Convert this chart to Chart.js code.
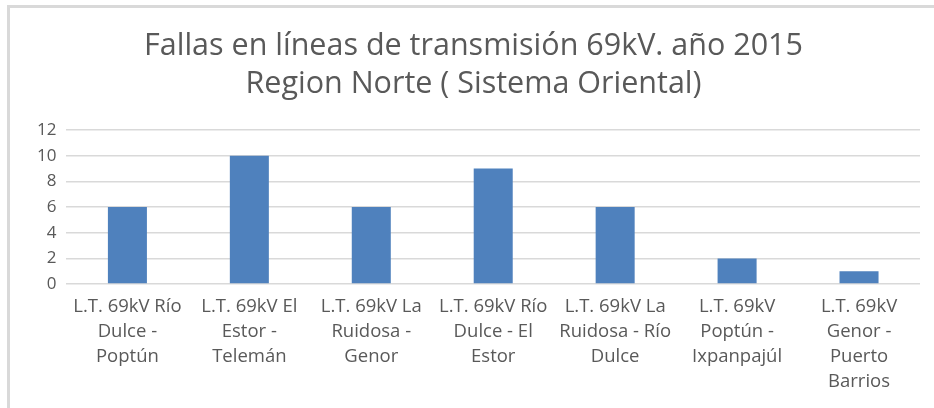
<!DOCTYPE html>
<html>
<head>
<meta charset="utf-8">
<script src="https://cdn.jsdelivr.net/npm/chart.js@4/dist/chart.umd.min.js"></script>
<style>
  html, body { margin: 0; padding: 0; background: #fff; }
  #wrap { position: relative; width: 934px; height: 408px; }
  #frame { position: absolute; left: 7px; top: 5px; right: 0; bottom: 0;
           border-left: 3px solid #d9d9d9; border-top: 3px solid #d9d9d9; }
  canvas { position: absolute; left: 0; top: 0; }
</style>
</head>
<body>
<div id="wrap">
  <div id="frame"></div>
  <canvas id="barchart" width="934" height="408"></canvas>
</div>
<script>
const chart_title = ["Fallas en líneas de transmisión 69kV. año 2015", "Region Norte ( Sistema Oriental)"]

const line_names = [
    ["L.T. 69kV Río", "Dulce -", "Poptún"],
    ["L.T. 69kV El", "Estor -", "Telemán"],
    ["L.T. 69kV La", "Ruidosa -", "Genor"],
    ["L.T. 69kV Río", "Dulce - El", "Estor"],
    ["L.T. 69kV La", "Ruidosa - Río", "Dulce"],
    ["L.T. 69kV", "Poptún -", "Ixpanpajúl"],
    ["L.T. 69kV", "Genor -", "Puerto", "Barrios"]
]

const fallas = [6, 10, 6, 9, 6, 2, 1]

const y_min = 0
const y_max = 12
const y_step = 2

const grey_text = '#595959'

new Chart(
    document.getElementById('barchart'),
    {
        type: 'bar',
        data: {
            labels: line_names,
            datasets: [
                {
                    label: 'Fallas',
                    data: fallas,
                    backgroundColor: '#4f81bd',
                    categoryPercentage: 1,
                    barPercentage: 0.32
                }
            ]
        },
        options: {
            responsive: false,
            animation: false,
            layout: {
                padding: { left: 27, right: 14, top: 0, bottom: 12 }
            },
            plugins: {
                legend: { display: false },
                tooltip: { enabled: false },
                title: {
                    display: true,
                    text: chart_title,
                    color: grey_text,
                    font: { family: 'Open Sans', size: 30.5, weight: 'normal', lineHeight: 1.23 },
                    padding: { top: 28, bottom: 27 }
                }
            },
            scales: {
                x: {
                    grid: { display: false },
                    border: { display: false },
                    ticks: {
                        color: grey_text,
                        font: { family: 'Open Sans', size: 18.5, lineHeight: 1.35 },
                        maxRotation: 0,
                        autoSkip: false,
                        padding: 2
                    }
                },
                y: {
                    min: y_min,
                    max: y_max,
                    border: { display: false },
                    grid: { color: '#d9d9d9', lineWidth: 1.5, drawTicks: false },
                    ticks: {
                        stepSize: y_step,
                        color: grey_text,
                        font: { family: 'Open Sans', size: 17 },
                        padding: 10
                    }
                }
            }
        }
    }
);
</script>
</body>
</html>
